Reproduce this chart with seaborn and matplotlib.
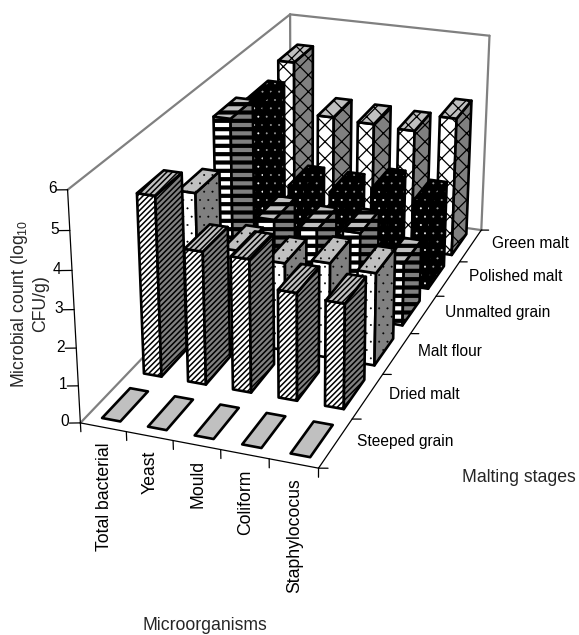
import seaborn as sns
import matplotlib
matplotlib.use('Agg')
import matplotlib.pyplot as plt
import matplotlib.hatch
from mpl_toolkits.mplot3d import proj3d
from mpl_toolkits.mplot3d.art3d import Poly3DCollection

# 1. DATA
microorganisms = ['Total bacterial', 'Yeast', 'Mould', 'Coliform', 'Staphylococus']
stages = ['Steeped grain', 'Dried malt', 'Malt flour', 'Unmalted grain', 'Polished malt', 'Green malt']
steeped_grain = [0, 0, 0, 0, 0]
dried_malt = [4.89, 3.61, 3.60, 2.91, 2.83]
malt_flour = [4.03, 2.61, 2.46, 2.65, 2.57]
unmalted_grain = [5.20, 2.50, 2.39, 2.48, 1.80]
polished_malt = [4.91, 2.50, 2.47, 2.74, 2.57]
green_malt = [5.25, 3.74, 3.69, 3.64, 4.16]
counts = [steeped_grain, dried_malt, malt_flour, unmalted_grain, polished_malt, green_malt]
z_ticks = [0, 1, 2, 3, 4, 5, 6]

# 2. STYLE: one entry per stage: hatch, hatch width, face colours, hatch colours
styles = [
    (None, 1.0, ('white', '#808080', '#c0c0c0'), ('black', 'black', 'black')),
    ('//////', 1.1, ('white', '#808080', '#c0c0c0'), ('black', 'black', 'black')),
    ('..', 0.3, ('white', '#808080', '#c0c0c0'), ('black', 'black', 'black')),
    ('--', 3.0, ('white', '#808080', '#c0c0c0'), ('black', 'black', 'black')),
    ('..', 0.3, ('black', 'black', 'black'), ('white', '#a0a0a0', '#a0a0a0')),
    ('xx', 0.9, ('white', '#808080', '#c0c0c0'), ('black', 'black', 'black')),
]
matplotlib.hatch.SmallFilledCircles.size = 0.09  # the dots are tiny in the original

sns.set_theme(style='white')
plt.rcParams['font.family'] = ['Liberation Sans', 'DejaVu Sans']
plt.rcParams['mathtext.default'] = 'regular'

W, H = 579, 635
fig = plt.figure(figsize=(W / 100, H / 100), dpi=100)
ax = fig.add_subplot(projection='3d', computed_zorder=False)
# camera fitted to the axes corners of the reference
ax.set_xlim(0, 5)
ax.set_ylim(0, 6)
ax.set_zlim(0, 6)
ax.view_init(elev=23.135, azim=-69.947)
ax.set_proj_type('persp', focal_length=0.541)
ax.set_box_aspect((0.419, 1, 0.418))
ax.set_position([-16.87 / W, 0.1621, 621.99 / W, 621.99 / H])
ax.set_axis_off()
ax.patch.set_visible(False)

def label(x, y, z, text, dx, dy, **kw):
    u, v, _ = proj3d.proj_transform(x, y, z, ax.get_proj())
    ax.annotate(text, xy=(u, v), xytext=(dx, dy), textcoords='offset pixels', color='black',
                annotation_clip=False, **kw)

# 3. WALLS AND AXES
grey = dict(color='#808080', lw=1.6, solid_capstyle='round', zorder=0)
for a, b in [((0, 0, 0), (0, 6, 0)), ((0, 6, 0), (5, 6, 0)), ((0, 6, 0), (0, 6, 6)),
             ((0, 0, 6), (0, 6, 6)), ((0, 6, 6), (5, 6, 6)), ((5, 6, 6), (5, 6, 0))]:
    ax.plot(*zip(a, b), **grey)
black = dict(color='black', lw=0.9, zorder=0)
for a, b in [((0, 0, 0), (5, 0, 0)), ((5, 0, 0), (5, 6, 0)), ((0, 0, 0), (0, 0, 6))]:
    ax.plot(*zip(a, b), **black)
for i in range(len(microorganisms) + 1):
    ax.plot([i, i], [0, 0], [0, -0.24], **black)
for i in range(len(stages) + 1):
    ax.plot([5, 5.17], [i, i + 0.03], [0, 0], **black)
for z in z_ticks:
    ax.plot([0, -0.2], [0, -0.04], [z, z], **black)
    label(0, 0, z, str(z), -11, 1, ha='right', va='center', fontsize=11.2)

# 4. BARS, back row first, left to right
def add_face(verts, fc, hatch, hatch_color, hatch_lw):
    if hatch:
        poly = Poly3DCollection([verts], facecolor=fc, edgecolor=hatch_color, hatch=hatch, linewidth=0)
        poly.set_hatch_linewidth(hatch_lw)
        ax.add_collection3d(poly)
    else:
        ax.add_collection3d(Poly3DCollection([verts], facecolor=fc, edgecolor=fc, linewidth=0))
    ax.add_collection3d(Poly3DCollection([verts], facecolor=(0, 0, 0, 0), edgecolor='black', linewidth=1.9))

for r in range(len(stages) - 1, -1, -1):
    hatch, hatch_lw, faces, hatch_colors = styles[r]
    for c in range(len(microorganisms)):
        x0, x1 = c + 0.3, c + 0.7
        y0, y1 = r + 0.17, r + 0.83
        v = counts[r][c]
        if v > 0:
            add_face([(x0, y0, 0), (x1, y0, 0), (x1, y0, v), (x0, y0, v)], faces[0], hatch, hatch_colors[0], hatch_lw)
            add_face([(x1, y0, 0), (x1, y1, 0), (x1, y1, v), (x1, y0, v)], faces[1], hatch, hatch_colors[1], hatch_lw)
        add_face([(x0, y0, v), (x1, y0, v), (x1, y1, v), (x0, y1, v)], faces[2], hatch, hatch_colors[2], hatch_lw)

# 5. LABELS
for c, name in enumerate(microorganisms):
    label(c + 0.5, 0, 0, name, 1, -15, rotation=90, ha='center', va='top', fontsize=12.7)
for r, name in enumerate(stages):
    label(5, r + 0.5, 0, name, 21, 2, ha='left', va='center', fontsize=11.2)

fig.text(8.5 / W, 1 - 304 / H, 'Microbial count (log$_{10}$\nCFU/g)', rotation=90, ha='left', va='center',
         ma='center', fontsize=12.7, linespacing=1.2)
fig.text(205 / W, 1 - 626 / H, 'Microorganisms', ha='center', va='center', fontsize=12.7)
fig.text(519 / W, 1 - 477 / H, 'Malting stages', ha='center', va='center', fontsize=12.7)

fig.savefig('out.png', dpi=100)
